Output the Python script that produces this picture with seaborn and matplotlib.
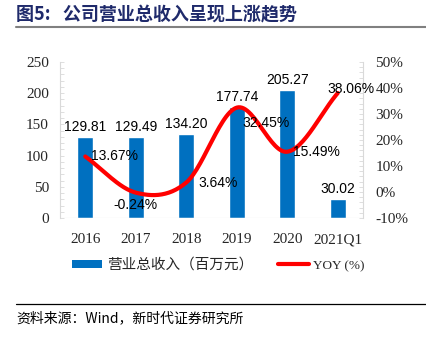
import numpy as np
import pandas as pd
import seaborn as sns
import matplotlib
matplotlib.use("Agg")
import matplotlib.pyplot as plt
from matplotlib.ticker import MultipleLocator, FuncFormatter
from matplotlib.lines import Line2D
from matplotlib.patches import Patch

categories = ["2016", "2017", "2018", "2019", "2020", "2021Q1"]
revenue = [129.81, 129.49, 134.20, 177.74, 205.27, 30.02]
yoy = [13.67, -0.24, 3.64, 32.45, 15.49, 38.06]
revenue_labels = ["129.81", "129.49", "134.20", "177.74", "205.27", "30.02"]
yoy_labels = ["13.67%", "-0.24%", "3.64%", "32.45%", "15.49%", "38.06%"]

sns.set_theme(style="white")
plt.rcParams['font.family'] = ['Noto Sans CJK SC', 'DejaVu Sans']

BLUE = "#0070C0"
RED = "#FF0000"
SERIF = ["Liberation Serif", "DejaVu Serif"]
SANS = ["Liberation Sans", "DejaVu Sans"]

fig = plt.figure(figsize=(4.26, 3.39), dpi=100)
ax = fig.add_axes([60/426, 1-218/339, 303/426, 156/339])

df = pd.DataFrame({"cat": categories, "rev": revenue})
sns.barplot(data=df, x="cat", y="rev", color=BLUE, width=0.31, ax=ax, saturation=1)
ax.set_ylim(0, 250)
ax.set_xlim(-0.5, 5.5)
ax.yaxis.set_major_locator(MultipleLocator(50))
ax.yaxis.set_minor_locator(MultipleLocator(10))
ax.set_xlabel("")
ax.set_ylabel("")
for s in ["top", "right", "bottom"]:
    ax.spines[s].set_visible(False)
ax.spines["left"].set_color("#D9D9D9")
ax.spines["left"].set_linewidth(0.8)
ax.tick_params(axis="y", which="both", left=True, direction="in", length=3, color="#D9D9D9", width=0.6, pad=8)
ax.tick_params(axis="y", which="major", labelsize=11)
ax.tick_params(axis="x", bottom=False, labelsize=11, pad=5)
for lbl in ax.get_yticklabels() + ax.get_xticklabels():
    lbl.set_fontfamily(SERIF)
for i, (v, t) in enumerate(zip(revenue, revenue_labels)):
    ax.text(i, v + 5, t, ha="center", va="bottom", fontsize=10, family=SANS, color="#000000")
ax.axhline(0, color="#D9D9D9", lw=0.8)

ax2 = ax.twinx()
ax2.set_ylim(-10, 50)
ax2.yaxis.set_major_locator(MultipleLocator(10))
ax2.yaxis.set_minor_locator(MultipleLocator(2))
ax2.yaxis.set_major_formatter(FuncFormatter(lambda v, p: f"{v:.0f}%"))
for s in ["top", "left", "bottom"]:
    ax2.spines[s].set_visible(False)
ax2.spines["right"].set_color("#D9D9D9")
ax2.spines["right"].set_linewidth(0.8)
ax2.tick_params(axis="y", which="both", right=True, direction="in", length=3, color="#D9D9D9", width=0.6, pad=9)
ax2.tick_params(axis="y", which="major", labelsize=11)
for lbl in ax2.get_yticklabels():
    lbl.set_fontfamily(SERIF)
ax2.grid(False)
ax.grid(False)

# smoothed line rendering (Catmull-Rom) through the data points
xs = np.arange(len(yoy), dtype=float)
ys = np.array(yoy, dtype=float)
px = np.concatenate([[2*xs[0]-xs[1]], xs, [2*xs[-1]-xs[-2]]])
py = np.concatenate([[2*ys[0]-ys[1]], ys, [2*ys[-1]-ys[-2]]])
cx, cy = [], []
for i in range(1, len(px) - 2):
    t = np.linspace(0, 1, 30)
    p0, p1, p2, p3 = py[i-1], py[i], py[i+1], py[i+2]
    q0, q1, q2, q3 = px[i-1], px[i], px[i+1], px[i+2]
    f = lambda a, b, c, d: 0.5*((2*b) + (-a + c)*t + (2*a - 5*b + 4*c - d)*t**2 + (-a + 3*b - 3*c + d)*t**3)
    cx.extend(f(q0, q1, q2, q3))
    cy.extend(f(p0, p1, p2, p3))
sns.lineplot(x=cx, y=cy, color=RED, lw=3, ax=ax2, sort=False, estimator=None)

offsets = [(0.12, 0.0, "left"), (0.0, -4.8, "center"),
           (0.24, 0.0, "left"), (0.12, -6.0, "left"),
           (0.12, 0.0, "left"), (0.26, 1.5, "center")]
for i, (v, t) in enumerate(zip(yoy, yoy_labels)):
    dx, dy, ha = offsets[i]
    ax2.text(i + dx, v + dy, t, ha=ha, va="center", fontsize=10, family=SANS, color="#000000")

# title
fig.text(16/426, 1-15/339, "图5:   公司营业总收入呈现上涨趋势", fontsize=13, fontweight="bold",
         color="#1F2A6B", ha="left", va="center")
fig.add_artist(Line2D([16/426, 1], [1-27/339, 1-27/339], color="#808080", lw=1.5))

# legend
handles = [Patch(facecolor=BLUE, edgecolor="none"), Line2D([0], [0], color=RED, lw=3)]
leg = fig.legend(handles, ["营业总收入（百万元）", "YOY (%)"], loc="center", bbox_to_anchor=(0.512, 1-265/339),
                 ncol=2, frameon=False, fontsize=10.5, handlelength=2.1, handleheight=0.5, columnspacing=1.7,
                 handletextpad=0.3)
leg.get_texts()[1].set_fontfamily(SERIF)
leg.get_texts()[1].set_fontsize(9.5)

# footer
fig.add_artist(Line2D([16/426, 1], [1-304/339, 1-304/339], color="#000000", lw=0.9))
fig.text(16/426, 1-318/339, "资料来源：Wind，新时代证券研究所", fontsize=10, ha="left", va="center", color="#000000")

fig.savefig("out.png", dpi=100)
